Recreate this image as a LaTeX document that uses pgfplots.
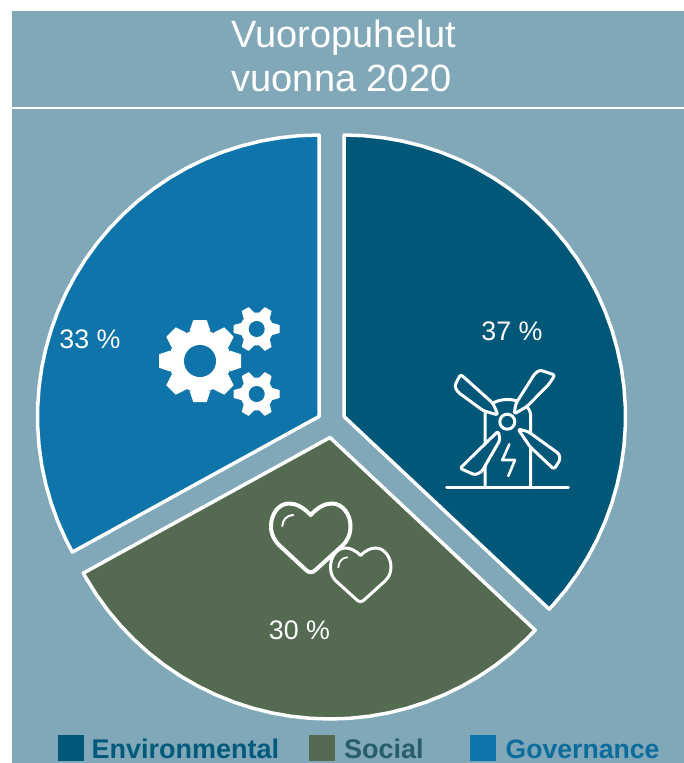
\documentclass[border=0pt]{standalone}
\usepackage{pgfplots}
\pgfplotsset{compat=1.18}
\usepackage{fontspec}
\setmainfont{Liberation Sans}
\definecolor{bgc}{HTML}{80A8B9}
\definecolor{envc}{HTML}{005778}
\definecolor{socc}{HTML}{546B52}
\definecolor{govc}{HTML}{0E74A9}
\definecolor{envt}{HTML}{005A7C}
\definecolor{soct}{HTML}{285E68}
\definecolor{govt}{HTML}{0C6C9C}
\newcommand{\gear}[6]{% cx cy outer root hole teeth
  \begin{scope}[shift={(#1,#2)}]
    \fill[white] (0,0) circle (#4);
    \pgfmathsetmacro{\stp}{360/#6}
    \foreach \i in {1,...,#6}{
      \begin{scope}[rotate=\i*\stp]
        \fill[white,draw=white,line width=1pt,line join=round]
          (#4-1,-#3*0.24) -- (#3-.5,-#3*0.155) -- (#3-.5,#3*0.155) -- (#4-1,#3*0.24) -- cycle;
      \end{scope}
    }
    \fill[govc] (0,0) circle (#5);
  \end{scope}}
\begin{document}
\begin{tikzpicture}[x=1pt,y=-1pt]
\path[use as bounding box] (0,0) rectangle (684,763);
\fill[white] (0,0) rectangle (684,763);
\fill[bgc] (12,11) rectangle (684,763);
\draw[white,line width=2pt] (12,107.6) -- (684,107.6);
\node[anchor=base west,white,inner sep=0pt,font=\fontsize{38}{44}\selectfont] at (231.5,47) {Vuoropuhelut};
\node[anchor=base west,white,inner sep=0pt,font=\fontsize{38}{44}\selectfont] at (231.5,91) {vuonna 2020};
\begin{axis}[
  at={(344pt,-416.5pt)},anchor=origin,
  x=1pt,y=1pt,
  xmin=-344,xmax=340,ymin=-346.5,ymax=416.5,
  hide axis,clip=false,
  every axis plot/.append style={data cs=polar,draw=white,line width=3.5pt,line join=round}
]
% Environmental 37 %
\addplot[fill=envc] coordinates {(0,0) (90,281.5) (86,281.5) (82,281.5) (78,281.5) (74,281.5) (70,281.5) (66,281.5) (62,281.5) (58,281.5) (54,281.5) (50,281.5) (46,281.5) (42,281.5) (38,281.5) (34,281.5) (30,281.5) (26,281.5) (22,281.5) (18,281.5) (14,281.5) (10,281.5) (6,281.5) (2,281.5) (-2,281.5) (-6,281.5) (-10,281.5) (-14,281.5) (-18,281.5) (-22,281.5) (-26,281.5) (-30,281.5) (-34,281.5) (-38,281.5) (-42,281.5) (-43.2,281.5)} -- cycle;
% Social 30 %
\addplot[fill=socc,xshift=-14pt,yshift=-21pt] coordinates {(0,0) (-43.2,281.5) (-46,281.5) (-50,281.5) (-54,281.5) (-58,281.5) (-62,281.5) (-66,281.5) (-70,281.5) (-74,281.5) (-78,281.5) (-82,281.5) (-86,281.5) (-90,281.5) (-94,281.5) (-98,281.5) (-102,281.5) (-106,281.5) (-110,281.5) (-114,281.5) (-118,281.5) (-122,281.5) (-126,281.5) (-130,281.5) (-134,281.5) (-138,281.5) (-142,281.5) (-146,281.5) (-150,281.5) (-151.2,281.5)} -- cycle;
% Governance 33 %
\addplot[fill=govc,xshift=-25pt] coordinates {(0,0) (-151.2,281.5) (-154,281.5) (-158,281.5) (-162,281.5) (-166,281.5) (-170,281.5) (-174,281.5) (-178,281.5) (-182,281.5) (-186,281.5) (-190,281.5) (-194,281.5) (-198,281.5) (-202,281.5) (-206,281.5) (-210,281.5) (-214,281.5) (-218,281.5) (-222,281.5) (-226,281.5) (-230,281.5) (-234,281.5) (-238,281.5) (-242,281.5) (-246,281.5) (-250,281.5) (-254,281.5) (-258,281.5) (-262,281.5) (-266,281.5) (-270,281.5)} -- cycle;
\end{axis}
% percent labels
\node[white,font=\fontsize{26.8}{30}\selectfont,inner sep=0pt] at (512,331.5) {37 \%};
\node[white,font=\fontsize{26.8}{30}\selectfont,inner sep=0pt] at (299.5,630) {30 \%};
\node[white,font=\fontsize{26.8}{30}\selectfont,inner sep=0pt] at (90,339.5) {33 \%};
% legend
\fill[envc] (58,735) rectangle (84,761);
\fill[socc] (309,735) rectangle (335,761);
\fill[govc] (470,735) rectangle (496,761);
\node[anchor=base west,inner sep=0pt,text=envt,font=\fontsize{27}{30}\selectfont\bfseries] at (91.5,758.5) {Environmental};
\node[anchor=base west,inner sep=0pt,text=soct,font=\fontsize{27}{30}\selectfont\bfseries] at (344,758.5) {Social};
\node[anchor=base west,inner sep=0pt,text=govt,font=\fontsize{26.6}{30}\selectfont\bfseries] at (505.5,758.5) {Governance};
% windmill icon
\begin{scope}[white,line width=3pt,line cap=round,line join=round]
  \draw (446.7,487.7) -- (568.3,487.7);
  \draw (485,487.7) -- (485,416) .. controls (485,406) and (495,399.5) .. (507.5,399.5) .. controls (520,399.5) and (530.7,406) .. (530.7,416) -- (530.7,487.7);
  \filldraw[fill=envc,rounded corners=2.5pt] (460.6,374.3) -- (454.7,385.7) -- (457.3,391.7) -- (483.3,410.7) -- (498,415) -- (493,403.3) -- cycle;
  \filldraw[fill=envc,rounded corners=2.5pt] (516,403.3) -- (535,373.3) -- (540,370) -- (555,375) -- (548.3,385) -- (526.7,406.7) -- (514,414) -- cycle;
  \filldraw[fill=envc,rounded corners=2.5pt] (518,429) -- (528.3,431.7) -- (559.3,454) -- (560,460) -- (554,469.3) -- (530,446.7) -- cycle;
  \filldraw[fill=envc,rounded corners=2.5pt] (498.3,431) -- (460,468.3) -- (475,475) -- (481.7,471.7) -- (500,440) -- cycle;
  \filldraw[fill=envc] (507.3,421.7) circle (7.5);
  \draw[line width=2.6pt] (509.3,444.3) -- (502.3,460) -- (515,460) -- (508.3,476);
\end{scope}
% gears
\gear{200}{361}{41}{31}{16}{8}
\gear{256.7}{329}{23}{16.5}{8}{6}
\gear{256.7}{394}{23}{16.5}{8}{6}
% hearts
\draw[white,line width=4pt,line cap=round,line join=round]
  (310.7,515) .. controls (303,507) and (296,503.5) .. (289,503.5)
  .. controls (278,503.5) and (271,515) .. (271,526)
  .. controls (271,535) and (275,541) .. (279,545)
  -- (306,570) .. controls (309,573) and (312.5,573) .. (315.5,570)
  -- (343,545) .. controls (347,541) and (350.5,535) .. (350.5,526)
  .. controls (350.5,515) and (343,503.5) .. (332,503.5)
  .. controls (325,503.5) and (318,507) .. (310.7,515) -- cycle;
\draw[white,line width=2pt,line cap=round] (282.3,526) .. controls (282.5,520) and (287,515) .. (293.3,515);
\filldraw[fill=socc,draw=white,line width=3pt,line cap=round,line join=round]
  (360.7,555.5) .. controls (355,550) and (350,548) .. (345,548)
  .. controls (337,548) and (330.5,557) .. (330.5,567)
  .. controls (330.5,574) and (333,578) .. (336,581)
  -- (357.5,600.5) .. controls (359.5,602.3) and (361.5,602.3) .. (363.5,600.5)
  -- (385,581) .. controls (388,578) and (391,574) .. (391,567)
  .. controls (391,557) and (384,548) .. (376,548)
  .. controls (371,548) and (366,550) .. (360.7,555.5) -- cycle;
\draw[white,line width=1.8pt,line cap=round] (338.3,567.3) .. controls (338.5,562) and (342,557.5) .. (347.3,557.3);
\end{tikzpicture}
\end{document}
